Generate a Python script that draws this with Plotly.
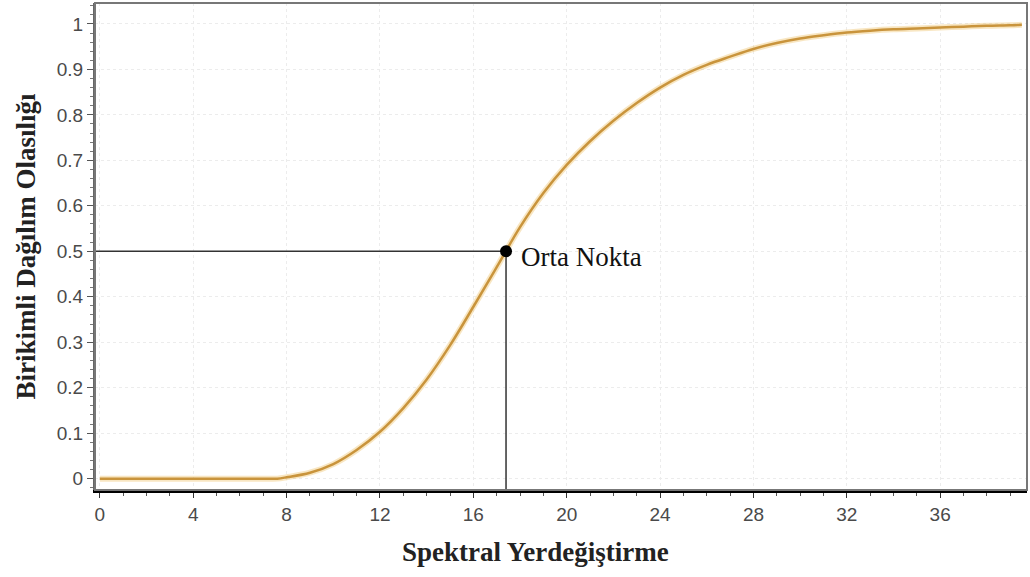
import plotly.graph_objects as go

# Cumulative distribution of spectral displacement
x_vals = [0, 2, 4, 6, 7, 7.6, 8, 9, 10, 11, 12, 13, 14, 15, 16, 17, 18, 19, 20,
          21, 22, 23, 24, 25, 26, 27, 28, 29, 30, 31, 32, 33, 34, 35, 36, 37, 38, 39, 39.5]
cdf_vals = [0, 0, 0, 0, 0, 0, 0.003, 0.013, 0.032, 0.063, 0.103, 0.155, 0.218, 0.293, 0.378,
            0.465, 0.553, 0.628, 0.69, 0.742, 0.787, 0.826, 0.86, 0.888, 0.91, 0.928,
            0.945, 0.958, 0.968, 0.975, 0.981, 0.985, 0.988, 0.99, 0.992, 0.994, 0.996,
            0.997, 0.998]

mid_x = 17.4
mid_y = 0.5
mid_label = "Orta Nokta"

x_title = "Spektral Yerdeğiştirme"
y_title = "Birikimli Dağılım Olasılığı"

x_range = [-0.21, 39.72]
y_range = [-0.025, 1.046]
x_ticks = [0, 4, 8, 12, 16, 20, 24, 28, 32, 36]
y_ticks = [0, 0.1, 0.2, 0.3, 0.4, 0.5, 0.6, 0.7, 0.8, 0.9, 1]
y_tick_text = ["0", "0.1", "0.2", "0.3", "0.4", "0.5", "0.6", "0.7", "0.8", "0.9", "1"]

fig = go.Figure()

# Guide lines to the midpoint
fig.add_trace(go.Scatter(x=[x_range[0], mid_x], y=[mid_y, mid_y], mode="lines",
                         line=dict(color="#333333", width=1.5), hoverinfo="skip"))
fig.add_trace(go.Scatter(x=[mid_x, mid_x], y=[mid_y, y_range[0]], mode="lines",
                         line=dict(color="#333333", width=1.5), hoverinfo="skip"))

# CDF curve (soft halo + main stroke)
fig.add_trace(go.Scatter(x=x_vals, y=cdf_vals, mode="lines",
                         line=dict(color="rgba(240,200,120,0.45)", width=6, shape="spline"),
                         hoverinfo="skip"))
fig.add_trace(go.Scatter(x=x_vals, y=cdf_vals, mode="lines",
                         line=dict(color="#C9943C", width=2.5, shape="spline")))

# Midpoint marker and label
fig.add_trace(go.Scatter(x=[mid_x], y=[mid_y], mode="markers",
                         marker=dict(color="black", size=12)))
fig.add_annotation(x=mid_x, y=mid_y, text=mid_label, showarrow=False,
                   xanchor="left", yanchor="middle", xshift=13, yshift=-6,
                   font=dict(family="Liberation Serif", size=27, color="#111111"))

# Axis titles
fig.add_annotation(x=0.473, y=0, xref="paper", yref="paper", yshift=-62,
                   text=f"<b>{x_title}</b>", showarrow=False,
                   xanchor="center", yanchor="middle",
                   font=dict(family="Liberation Serif", size=27, color="#222222"))
fig.add_annotation(x=0, y=0.5, xref="paper", yref="paper", xshift=-70,
                   text=f"<b>{y_title}</b>", showarrow=False, textangle=-90,
                   xanchor="center", yanchor="middle",
                   font=dict(family="Liberation Serif", size=27, color="#222222"))

# Plot frame
fig.add_shape(type="rect", xref="paper", yref="paper", x0=0, x1=1, y0=0, y1=1,
              line=dict(color="#777777", width=2), layer="above")

fig.update_layout(
    width=1030, height=577,
    margin=dict(l=95, r=3, t=3, b=87),
    paper_bgcolor="white", plot_bgcolor="white",
    showlegend=False,
    font=dict(family="Liberation Sans", size=19, color="#4a4a4a"),
)

fig.update_xaxes(
    range=x_range, tickvals=x_ticks, ticks="outside", ticklen=5, tickcolor="#333333",
    showline=True, linecolor="black", linewidth=3,
    showgrid=True, gridcolor="#ececec", griddash="dot", gridwidth=1,
    zeroline=False,
    minor=dict(dtick=1, tick0=0, ticks="outside", ticklen=3, tickcolor="#555555", showgrid=False),
)
fig.update_yaxes(
    range=y_range, tickvals=y_ticks, ticktext=y_tick_text, ticks="outside", ticklen=6,
    tickcolor="#555555",
    showline=True, linecolor="#666666", linewidth=2,
    showgrid=True, gridcolor="#ececec", griddash="dot", gridwidth=1,
    zeroline=False,
    minor=dict(dtick=0.02, tick0=0, ticks="outside", ticklen=3, tickcolor="#777777", showgrid=False),
)

fig.write_html("out.html")
